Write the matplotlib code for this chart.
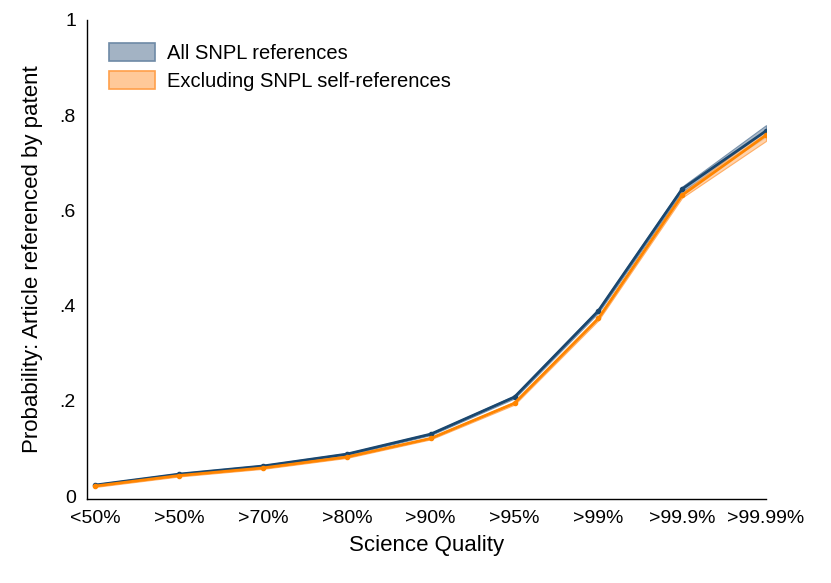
import numpy as np
import matplotlib
matplotlib.use("Agg")
from matplotlib import pyplot as plt
from matplotlib.patches import Patch

plt.rcParams["font.family"] = ["Liberation Sans", "DejaVu Sans"]

categories = ["<50%", ">50%", ">70%", ">80%", ">90%", ">95%", ">99%", ">99.9%", ">99.99%"]

all_refs = [0.023, 0.046, 0.063, 0.088, 0.130, 0.208, 0.389, 0.645, 0.767]
all_lo = [0.021, 0.044, 0.061, 0.086, 0.128, 0.205, 0.385, 0.640, 0.755]
all_hi = [0.025, 0.048, 0.065, 0.090, 0.132, 0.211, 0.393, 0.650, 0.779]

excl_refs = [0.021, 0.043, 0.059, 0.082, 0.121, 0.195, 0.373, 0.632, 0.758]
excl_lo = [0.019, 0.041, 0.057, 0.080, 0.119, 0.192, 0.369, 0.627, 0.746]
excl_hi = [0.023, 0.045, 0.061, 0.084, 0.123, 0.198, 0.377, 0.637, 0.770]

blue = "#1a476f"
orange = "#ff8500"

fig = plt.figure(figsize=(8.31, 5.83), dpi=100)
ax = fig.add_axes([87 / 831, 1 - 499 / 583, (766 - 87) / 831, (499 - 20) / 583])

x = np.arange(len(categories))

ax.fill_between(x, all_lo, all_hi, color="#a3b3c4", edgecolor="#6e8aa6", alpha=0.9, lw=0.8, zorder=1)
ax.fill_between(x, excl_lo, excl_hi, color="#ffc999", edgecolor="#ffa04a", alpha=0.8, lw=0.8, zorder=2)
ax.plot(x, all_refs, color=blue, lw=2.0, marker="o", ms=3, zorder=3)
ax.plot(x, excl_refs, color=orange, lw=2.0, marker="o", ms=3, zorder=4)

ax.set_xlim(-0.1, 8)
ax.set_ylim(-0.0063, 1)
ax.set_xticks(x)
ax.set_xticklabels(categories)
ax.set_yticks([0, 0.2, 0.4, 0.6, 0.8, 1])
ax.set_yticklabels(["0", ".2", ".4", ".6", ".8", "1"])
ax.tick_params(axis="both", length=0, labelsize=14)
ax.tick_params(axis="y", pad=8)
ax.tick_params(axis="x", pad=8)

for side in ["top", "right"]:
    ax.spines[side].set_visible(False)
ax.spines["left"].set_linewidth(1.0)
ax.spines["bottom"].set_linewidth(1.0)

ax.set_xlabel("Science Quality", fontsize=16, labelpad=6)
ax.set_ylabel("Probability: Article referenced by patent", fontsize=16, labelpad=12)

handles = [
    Patch(facecolor="#a3b3c4", edgecolor="#6e8aa6", lw=1.2),
    Patch(facecolor="#ffc999", edgecolor="#ffa04a", lw=1.2),
]
ax.legend(handles, ["All SNPL references", "Excluding SNPL self-references"],
          loc="upper left", bbox_to_anchor=(0.005, 0.99), frameon=False, fontsize=14.5,
          handlelength=2.3, handleheight=1.0, handletextpad=0.6, labelspacing=0.4)

fig.savefig("out.png", dpi=100)
